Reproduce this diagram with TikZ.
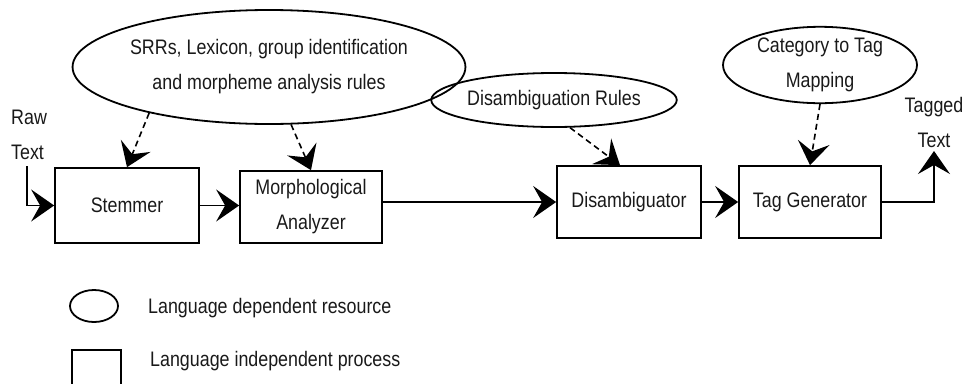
\documentclass[tikz,border=0pt]{standalone}
\usepackage{fontspec}
\setmainfont{Liberation Sans}[FakeStretch=0.85]
\usetikzlibrary{arrows.meta,shapes.geometric}
\begin{document}
\begin{tikzpicture}[x=1pt,y=-1pt,
  every node/.style={font=\fontsize{21}{35}\selectfont, text=black!90},
  box/.style={draw=black, line width=1.7pt, rectangle, inner sep=0pt, align=center},
  res/.style={draw=black, line width=1.8pt, ellipse, inner sep=0pt, align=center},
  lbl/.style={inner sep=0pt},
  flow/.style={line width=1.6pt, -{Stealth[length=23pt,width=32pt,inset=9pt]}},
  dep/.style={flow, dash pattern=on 6pt off 4pt}
]
\useasboundingbox (0,0) rectangle (968,383);

% process boxes
\node[box, minimum width=144pt, minimum height=75pt] (stem) at (127,205.5) {Stemmer};
\node[box, minimum width=142pt, minimum height=72pt] (morph) at (311,207) {Morphological\\Analyzer};
\node[box, minimum width=144pt, minimum height=72pt] (dis) at (629,202) {Disambiguator};
\node[box, minimum width=142pt, minimum height=72pt] (tag) at (810,202) {Tag Generator};

% resources
\node[res, minimum width=304pt, minimum height=114pt] (srr) at (269,67)
  {SRRs, Lexicon, group identification\\and morpheme analysis rules};
\node[res, minimum width=211pt, minimum height=54pt] (dr) at (554,100) {Disambiguation Rules};
\node[res, minimum width=194pt, minimum height=76pt] (cat) at (820,65) {Category to Tag\\Mapping};

% input / output labels
\node[lbl, align=left, anchor=west] (raw) at (11,135) {Raw\\Text};
\node[lbl, align=center] (tagged) at (934,122) {Tagged\\Text};
\coordinate (rawend) at (27,166);
\coordinate (outend) at (934,151);

% main flow
\draw[flow] (rawend) |- (stem.west);
\draw[flow] (stem.east) -- (stem.east -| morph.west);
\draw[flow] (morph.east |- dis.west) -- (dis.west);
\draw[flow] (dis.east) -- (tag.west);
\draw[flow] (tag.east) -| (outend);

% resource usage
\draw[dep] (srr.201) -- (stem.north);
\draw[dep] (srr.-69) -- (morph.north);
\draw[dep] (dr.-60) -- ([xshift=-9pt]dis.north);
\draw[dep] (cat.south) -- (tag.north);

% legend
\node[res, minimum width=48pt, minimum height=32pt] (lres) at (94,306) {};
\node[lbl, anchor=west] (lrestxt) at (148,308) {Language dependent resource};
\node[box, minimum width=49pt, minimum height=44pt] (lproc) at (96.5,372) {};
\node[lbl, anchor=west] (lproctxt) at (150,361) {Language independent process};
\end{tikzpicture}
\end{document}
